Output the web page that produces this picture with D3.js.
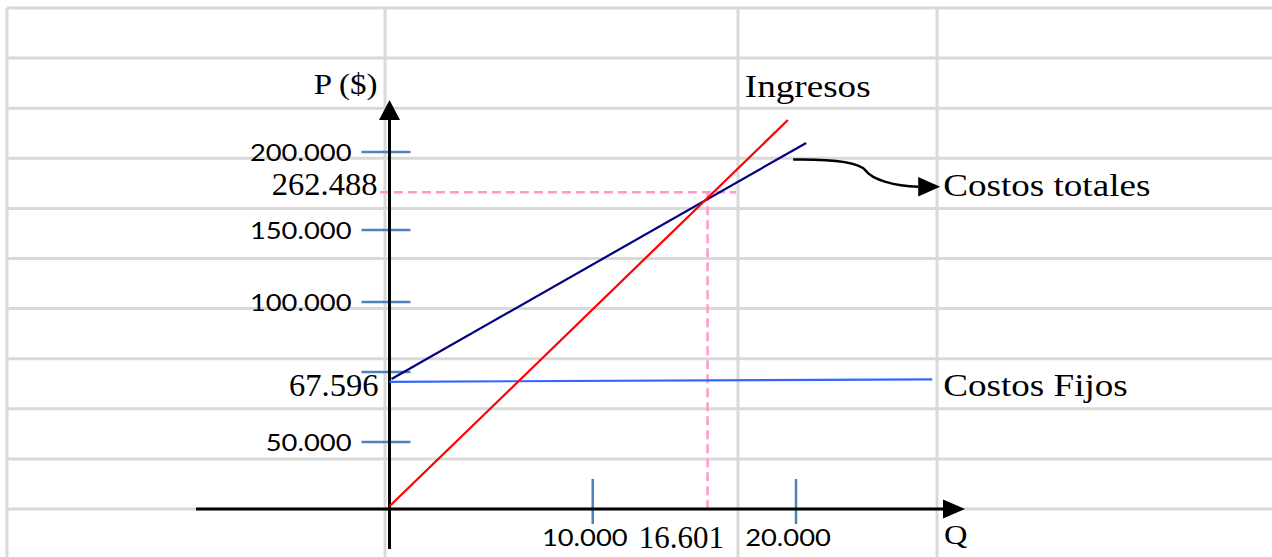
<!DOCTYPE html>
<html>
<head>
<meta charset="utf-8">
<script src="https://cdn.jsdelivr.net/npm/d3@7"></script>
<style>
  body { margin: 0; background: #fff; }
  svg { display: block; }
</style>
</head>
<body>
<div id="graph"></div>
<script>
// tick values and labels
const yTickValues = [50000, 75000, 100000, 150000, 200000];
const yTickLabels = ['50.000', '', '100.000', '150.000', '200.000'];
const xTickValues = [10000, 20000];
const xTickLabels = ['10.000', '20.000'];

// series (Q, P) endpoints
const seriesNames = ['Ingresos', 'Costos totales', 'Costos Fijos'];
const ingresosQ = [0, 19600];
const ingresosP = [2000, 220500];
const totalesQ = [100, 20500];
const totalesP = [72500, 205800];
const fijosQ = [0, 26700];
const fijosP = [71500, 72400];

// break-even point and its annotations
const breakQ = 15650;
const breakP = 174200;
const guideQ = [-470, 17050];
const breakLabels = ['16.601', '262.488'];
const fixedLabel = '67.596';
const axisNames = ['P ($)', 'Q'];

const w = 1272;
const h = 557;
const gridCols = [7, 385, 738, 937];
const gridRows = d3.range(11).map(i => 8 + i * 50.1);
const serif = '"Liberation Serif", "Times New Roman", serif';
const sans = 'Lato, "Open Sans", sans-serif';
const tickBlue = '#4f81bd';

const svg = d3.select('#graph').append('svg')
  .attr('width', w)
  .attr('height', h);

svg.append('rect').attr('width', w).attr('height', h).attr('fill', '#fff');

// spreadsheet grid behind the drawing
const grid = svg.append('g').attr('stroke', '#d9d9d9').attr('stroke-width', 3);
grid.selectAll('.row').data(gridRows).enter().append('line')
  .attr('x1', gridCols[0]).attr('x2', w)
  .attr('y1', d => d).attr('y2', d => d);
grid.selectAll('.col').data(gridCols).enter().append('line')
  .attr('x1', d => d).attr('x2', d => d)
  .attr('y1', gridRows[0]).attr('y2', h);

// hand drawn axis, ticks are not evenly spaced
const x = d3.scaleLinear().domain([0, 20000]).range([389.5, 796]);
const y = d3.scaleLinear()
  .domain([0, 50000, 100000, 150000, 200000])
  .range([509, 442, 302, 230, 152]);

const x0 = x(0);
const y0 = y(0);

const line = d3.line().x(d => x(d[0])).y(d => y(d[1]));

// break-even guides
const guides = svg.append('g')
  .attr('stroke', '#ff99cc')
  .attr('stroke-width', 2.5)
  .attr('stroke-dasharray', '9,5')
  .attr('fill', 'none');
guides.append('path').attr('d', line([[guideQ[0], breakP], [guideQ[1], breakP]]));
guides.append('path').attr('d', line([[breakQ, breakP], [breakQ, 0]]));

// blue tick marks
svg.append('g').selectAll('line').data(yTickValues).enter().append('line')
  .attr('x1', x0 - 28).attr('x2', x0 + 21)
  .attr('y1', d => y(d)).attr('y2', d => y(d))
  .attr('stroke', tickBlue).attr('stroke-width', 2.5);
svg.append('g').selectAll('line').data(xTickValues).enter().append('line')
  .attr('x1', d => x(d)).attr('x2', d => x(d))
  .attr('y1', y0 - 30).attr('y2', y0 + 15)
  .attr('stroke', tickBlue).attr('stroke-width', 2.5);

// axes with arrow heads
const axes = svg.append('g');
axes.append('line')
  .attr('x1', x0).attr('x2', x0).attr('y1', y0 + 40).attr('y2', 118)
  .attr('stroke', '#000').attr('stroke-width', 3);
axes.append('path')
  .attr('d', `M${x0},100 L${x0 - 10.5},120 L${x0 + 10.5},120 Z`)
  .attr('fill', '#000');
axes.append('line')
  .attr('x1', 196).attr('x2', 945).attr('y1', y0).attr('y2', y0)
  .attr('stroke', '#000').attr('stroke-width', 3);
axes.append('path')
  .attr('d', `M965,${y0} L943,${y0 - 9.5} L943,${y0 + 9.5} Z`)
  .attr('fill', '#000');

// the three lines
const series = [
  {q: fijosQ, p: fijosP, color: '#3366ff'},
  {q: totalesQ, p: totalesP, color: '#000080'},
  {q: ingresosQ, p: ingresosP, color: '#ff0000'}
];
svg.append('g').selectAll('path').data(series).enter().append('path')
  .attr('d', d => line(d.q.map((q, i) => [q, d.p[i]])))
  .attr('fill', 'none')
  .attr('stroke', d => d.color)
  .attr('stroke-width', 2.2);

// text helper, the source text is stretched sideways
function label(txt, tx, ty, font, size, sx, anchor, dy) {
  svg.append('text')
    .attr('transform', `translate(${tx},${ty}) scale(${sx},1)`)
    .attr('text-anchor', anchor)
    .attr('dy', dy || 0)
    .attr('font-family', font)
    .attr('font-size', size)
    .attr('fill', '#000')
    .text(txt);
}

yTickValues.forEach((v, i) => {
  if (yTickLabels[i]) label(yTickLabels[i], x0 - 38, y(v), sans, 24, 1.14, 'end', '0.36em');
});
xTickValues.forEach((v, i) => {
  label(xTickLabels[i], x(v) - 8, y0 + 37, sans, 24, 1.14, 'middle');
});

label(breakLabels[0], x(breakQ) + 16.5, y0 + 39, serif, 31, 1.0, 'end');
label(breakLabels[1], x0 - 12, y(breakP) + 3, serif, 31, 1.05, 'end');
label(fixedLabel, x0 - 11, y(fijosP[0]) + 14.5, serif, 31, 1.05, 'end');
label(axisNames[0], x0 - 12, 94, serif, 30, 1.1, 'end');
label(axisNames[1], 944, y0 + 35, serif, 28, 1.16, 'start');

const ingEnd = [x(ingresosQ[1]), y(ingresosP[1])];
const totEnd = [x(totalesQ[1]), y(totalesP[1])];
const fijEnd = [x(fijosQ[1]), y(fijosP[1])];
label(seriesNames[0], ingEnd[0] - 43, ingEnd[1] - 23, serif, 32, 1.16, 'start');
label(seriesNames[1], fijEnd[0] + 11, y(breakP) + 4, serif, 32, 1.16, 'start');
label(seriesNames[2], fijEnd[0] + 11, fijEnd[1] + 17, serif, 32, 1.16, 'start');

// curved pointer to "Costos totales"
const sx = totEnd[0] - 13, sy = totEnd[1] + 16.5;
const ex = fijEnd[0] - 14, ey = y(breakP) - 5.5;
svg.append('path')
  .attr('d', `M${sx},${sy} C${sx + 37},${sy - 0.5} ${sx + 65},${sy + 2.5} ${sx + 72},${sy + 10.5}` +
    ` C${sx + 79},${sy + 20.5} ${ex - 23},${ey - 0.7} ${ex},${ey}`)
  .attr('fill', 'none')
  .attr('stroke', '#000')
  .attr('stroke-width', 2.5);
svg.append('path')
  .attr('d', `M${ex + 22},${ey} L${ex},${ey - 9.7} L${ex},${ey + 9.7} Z`)
  .attr('fill', '#000');
</script>
</body>
</html>
